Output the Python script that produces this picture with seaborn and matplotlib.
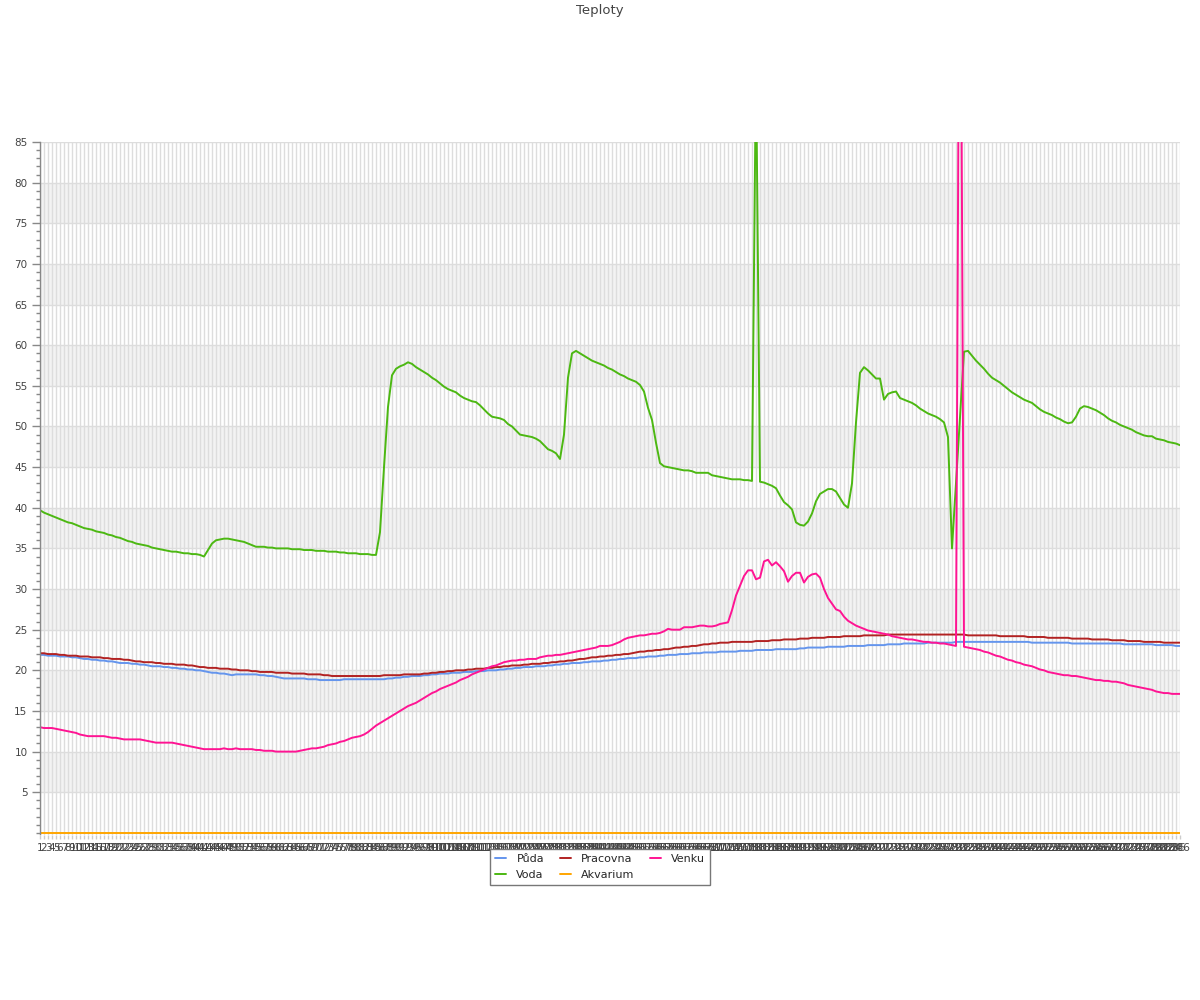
import matplotlib
matplotlib.use("Agg")
import matplotlib.pyplot as plt
import numpy as np
import pandas as pd
import seaborn as sns
from matplotlib.ticker import MultipleLocator

# ---------------- data ----------------
puda = [
    21.9, 21.9, 21.8, 21.8, 21.8, 21.7, 21.7, 21.7, 21.6, 21.6,
    21.5, 21.4, 21.4, 21.3, 21.3, 21.2, 21.2, 21.1, 21.1, 21.0,
    20.9, 20.9, 20.9, 20.8, 20.8, 20.7, 20.7, 20.6, 20.5, 20.5,
    20.5, 20.4, 20.4, 20.3, 20.3, 20.2, 20.2, 20.1, 20.1, 20.0,
    20.0, 19.9, 19.8, 19.7, 19.7, 19.6, 19.6, 19.5, 19.4, 19.5,
    19.5, 19.5, 19.5, 19.5, 19.5, 19.4, 19.4, 19.3, 19.3, 19.2,
    19.1, 19.0, 19.0, 19.0, 19.0, 19.0, 19.0, 18.9, 18.9, 18.9,
    18.8, 18.8, 18.8, 18.8, 18.8, 18.8, 18.9, 18.9, 18.9, 18.9,
    18.9, 18.9, 18.9, 18.9, 18.9, 18.9, 18.9, 19.0, 19.0, 19.1,
    19.1, 19.2, 19.2, 19.3, 19.3, 19.3, 19.4, 19.4, 19.5, 19.5,
    19.6, 19.6, 19.6, 19.7, 19.7, 19.7, 19.8, 19.8, 19.8, 19.9,
    19.9, 19.9, 20.0, 20.0, 20.0, 20.1, 20.1, 20.2, 20.2, 20.3,
    20.3, 20.4, 20.4, 20.4, 20.5, 20.5, 20.5, 20.6, 20.6, 20.7,
    20.7, 20.8, 20.8, 20.9, 20.9, 20.9, 21.0, 21.0, 21.1, 21.1,
    21.1, 21.2, 21.2, 21.3, 21.3, 21.4, 21.4, 21.5, 21.5, 21.5,
    21.6, 21.6, 21.7, 21.7, 21.7, 21.8, 21.8, 21.9, 21.9, 21.9,
    22.0, 22.0, 22.0, 22.1, 22.1, 22.1, 22.2, 22.2, 22.2, 22.2,
    22.3, 22.3, 22.3, 22.3, 22.3, 22.4, 22.4, 22.4, 22.4, 22.5,
    22.5, 22.5, 22.5, 22.5, 22.6, 22.6, 22.6, 22.6, 22.6, 22.6,
    22.7, 22.7, 22.8, 22.8, 22.8, 22.8, 22.8, 22.9, 22.9, 22.9,
    22.9, 22.9, 23.0, 23.0, 23.0, 23.0, 23.0, 23.1, 23.1, 23.1,
    23.1, 23.1, 23.2, 23.2, 23.2, 23.2, 23.3, 23.3, 23.3, 23.3,
    23.3, 23.3, 23.4, 23.4, 23.4, 23.4, 23.4, 23.4, 23.4, 23.5,
    23.5, 23.5, 23.5, 23.5, 23.5, 23.5, 23.5, 23.5, 23.5, 23.5,
    23.5, 23.5, 23.5, 23.5, 23.5, 23.5, 23.5, 23.5, 23.4, 23.4,
    23.4, 23.4, 23.4, 23.4, 23.4, 23.4, 23.4, 23.4, 23.3, 23.3,
    23.3, 23.3, 23.3, 23.3, 23.3, 23.3, 23.3, 23.3, 23.3, 23.3,
    23.3, 23.2, 23.2, 23.2, 23.2, 23.2, 23.2, 23.2, 23.2, 23.1,
    23.1, 23.1, 23.1, 23.1, 23.0, 23.0,
]

voda = [
    39.7, 39.4, 39.2, 39.0, 38.8, 38.6, 38.4, 38.2, 38.1, 37.9,
    37.7, 37.5, 37.4, 37.3, 37.1, 37.0, 36.9, 36.7, 36.6, 36.4,
    36.3, 36.1, 35.9, 35.8, 35.6, 35.5, 35.4, 35.3, 35.1, 35.0,
    34.9, 34.8, 34.7, 34.6, 34.6, 34.5, 34.4, 34.4, 34.3, 34.3,
    34.2, 34.0, 34.8, 35.6, 36.0, 36.1, 36.2, 36.2, 36.1, 36.0,
    35.9, 35.8, 35.6, 35.4, 35.2, 35.2, 35.2, 35.1, 35.1, 35.0,
    35.0, 35.0, 35.0, 34.9, 34.9, 34.9, 34.8, 34.8, 34.8, 34.7,
    34.7, 34.7, 34.6, 34.6, 34.6, 34.5, 34.5, 34.4, 34.4, 34.4,
    34.3, 34.3, 34.3, 34.2, 34.2, 37.0, 45.0, 52.4, 56.3, 57.1,
    57.4, 57.6, 57.9, 57.7, 57.3, 57.0, 56.7, 56.4, 56.0, 55.7,
    55.3, 54.9, 54.6, 54.4, 54.2, 53.8, 53.5, 53.3, 53.1, 53.0,
    52.6, 52.1, 51.6, 51.2, 51.1, 51.0, 50.8, 50.3, 50.0, 49.5,
    49.0, 48.9, 48.8, 48.7, 48.5, 48.2, 47.7, 47.2, 47.0, 46.7,
    46.0, 49.0, 56.0, 59.0, 59.3, 59.0, 58.7, 58.4, 58.1, 57.9,
    57.7, 57.5, 57.2, 57.0, 56.7, 56.4, 56.2, 55.9, 55.7, 55.5,
    55.1, 54.3, 52.3, 50.8, 48.0, 45.5, 45.1, 45.0, 44.9, 44.8,
    44.7, 44.6, 44.6, 44.5, 44.3, 44.3, 44.3, 44.3, 44.0, 43.9,
    43.8, 43.7, 43.6, 43.5, 43.5, 43.5, 43.4, 43.4, 43.3, 95.0,
    43.2, 43.1, 42.9, 42.7, 42.4, 41.5, 40.7, 40.3, 39.8, 38.2,
    37.9, 37.8, 38.3, 39.3, 40.8, 41.7, 42.0, 42.3, 42.3, 42.0,
    41.2, 40.4, 40.0, 43.0, 50.5, 56.6, 57.3, 56.9, 56.4, 55.9,
    55.9, 53.3, 54.0, 54.2, 54.3, 53.5, 53.3, 53.1, 52.9, 52.6,
    52.2, 51.9, 51.6, 51.4, 51.2, 50.9, 50.5, 48.7, 35.0, 43.0,
    51.0, 59.2, 59.3, 58.7, 58.1, 57.6, 57.1, 56.5, 56.0, 55.7,
    55.4, 55.0, 54.6, 54.2, 53.9, 53.6, 53.3, 53.1, 52.9, 52.5,
    52.1, 51.8, 51.6, 51.4, 51.1, 50.9, 50.6, 50.4, 50.5, 51.2,
    52.2, 52.5, 52.4, 52.2, 52.0, 51.7, 51.4, 51.0, 50.7, 50.5,
    50.2, 50.0, 49.8, 49.6, 49.3, 49.1, 48.9, 48.8, 48.8, 48.5,
    48.4, 48.3, 48.1, 48.0, 47.9, 47.7,
]

pracovna = [
    22.1, 22.1, 22.0, 22.0, 22.0, 21.9, 21.9, 21.8, 21.8, 21.8,
    21.7, 21.7, 21.7, 21.6, 21.6, 21.6, 21.5, 21.5, 21.4, 21.4,
    21.4, 21.3, 21.3, 21.2, 21.1, 21.1, 21.0, 21.0, 21.0, 20.9,
    20.9, 20.8, 20.8, 20.8, 20.7, 20.7, 20.7, 20.6, 20.6, 20.5,
    20.4, 20.4, 20.3, 20.3, 20.3, 20.2, 20.2, 20.2, 20.1, 20.1,
    20.0, 20.0, 20.0, 19.9, 19.9, 19.8, 19.8, 19.8, 19.8, 19.7,
    19.7, 19.7, 19.7, 19.6, 19.6, 19.6, 19.6, 19.5, 19.5, 19.5,
    19.5, 19.4, 19.4, 19.3, 19.3, 19.3, 19.3, 19.3, 19.3, 19.3,
    19.3, 19.3, 19.3, 19.3, 19.3, 19.3, 19.4, 19.4, 19.4, 19.4,
    19.4, 19.5, 19.5, 19.5, 19.5, 19.5, 19.6, 19.6, 19.7, 19.7,
    19.8, 19.8, 19.9, 19.9, 20.0, 20.0, 20.0, 20.1, 20.1, 20.2,
    20.2, 20.2, 20.3, 20.3, 20.4, 20.4, 20.5, 20.5, 20.6, 20.6,
    20.6, 20.7, 20.7, 20.8, 20.8, 20.8, 20.9, 20.9, 21.0, 21.0,
    21.1, 21.1, 21.2, 21.2, 21.3, 21.4, 21.4, 21.5, 21.6, 21.6,
    21.7, 21.7, 21.8, 21.8, 21.9, 21.9, 22.0, 22.0, 22.1, 22.2,
    22.3, 22.3, 22.4, 22.4, 22.5, 22.5, 22.6, 22.6, 22.7, 22.8,
    22.8, 22.9, 22.9, 23.0, 23.0, 23.1, 23.2, 23.2, 23.3, 23.3,
    23.4, 23.4, 23.4, 23.5, 23.5, 23.5, 23.5, 23.5, 23.5, 23.6,
    23.6, 23.6, 23.6, 23.7, 23.7, 23.7, 23.8, 23.8, 23.8, 23.8,
    23.9, 23.9, 23.9, 24.0, 24.0, 24.0, 24.0, 24.1, 24.1, 24.1,
    24.1, 24.2, 24.2, 24.2, 24.2, 24.2, 24.3, 24.3, 24.3, 24.3,
    24.3, 24.3, 24.4, 24.4, 24.4, 24.4, 24.4, 24.4, 24.4, 24.4,
    24.4, 24.4, 24.4, 24.4, 24.4, 24.4, 24.4, 24.4, 24.4, 24.4,
    24.4, 24.4, 24.3, 24.3, 24.3, 24.3, 24.3, 24.3, 24.3, 24.3,
    24.2, 24.2, 24.2, 24.2, 24.2, 24.2, 24.2, 24.1, 24.1, 24.1,
    24.1, 24.1, 24.0, 24.0, 24.0, 24.0, 24.0, 24.0, 23.9, 23.9,
    23.9, 23.9, 23.9, 23.8, 23.8, 23.8, 23.8, 23.8, 23.7, 23.7,
    23.7, 23.7, 23.6, 23.6, 23.6, 23.6, 23.5, 23.5, 23.5, 23.5,
    23.5, 23.4, 23.4, 23.4, 23.4, 23.4,
]

akvarium = [0.0] * 286

venku = [
    13.0, 12.9, 12.9, 12.9, 12.8, 12.7, 12.6, 12.5, 12.4, 12.3,
    12.1, 12.0, 11.9, 11.9, 11.9, 11.9, 11.9, 11.8, 11.7, 11.7,
    11.6, 11.5, 11.5, 11.5, 11.5, 11.5, 11.4, 11.3, 11.2, 11.1,
    11.1, 11.1, 11.1, 11.1, 11.0, 10.9, 10.8, 10.7, 10.6, 10.5,
    10.4, 10.3, 10.3, 10.3, 10.3, 10.3, 10.4, 10.3, 10.3, 10.4,
    10.3, 10.3, 10.3, 10.3, 10.2, 10.2, 10.1, 10.1, 10.1, 10.0,
    10.0, 10.0, 10.0, 10.0, 10.0, 10.1, 10.2, 10.3, 10.4, 10.4,
    10.5, 10.6, 10.8, 10.9, 11.0, 11.2, 11.3, 11.5, 11.7, 11.8,
    11.9, 12.1, 12.4, 12.8, 13.2, 13.5, 13.8, 14.1, 14.4, 14.7,
    15.0, 15.3, 15.6, 15.8, 16.0, 16.3, 16.6, 16.9, 17.2, 17.4,
    17.7, 17.9, 18.1, 18.3, 18.5, 18.8, 19.0, 19.2, 19.5, 19.7,
    19.9, 20.1, 20.3, 20.5, 20.6, 20.8, 21.0, 21.1, 21.2, 21.2,
    21.3, 21.3, 21.4, 21.4, 21.4, 21.6, 21.7, 21.8, 21.8, 21.9,
    21.9, 22.0, 22.1, 22.2, 22.3, 22.4, 22.5, 22.6, 22.7, 22.8,
    23.0, 23.0, 23.0, 23.1, 23.3, 23.5, 23.8, 24.0, 24.1, 24.2,
    24.3, 24.3, 24.4, 24.5, 24.5, 24.6, 24.8, 25.1, 25.0, 25.0,
    25.0, 25.3, 25.3, 25.3, 25.4, 25.5, 25.5, 25.4, 25.4, 25.5,
    25.7, 25.8, 25.9, 27.4, 29.2, 30.4, 31.6, 32.3, 32.3, 31.2,
    31.4, 33.4, 33.6, 32.9, 33.3, 32.8, 32.2, 30.9, 31.6, 32.0,
    32.0, 30.8, 31.5, 31.8, 31.9, 31.4, 30.0, 28.9, 28.2, 27.5,
    27.3, 26.6, 26.1, 25.8, 25.5, 25.3, 25.1, 24.9, 24.8, 24.7,
    24.6, 24.5, 24.4, 24.2, 24.1, 24.0, 23.9, 23.8, 23.8, 23.7,
    23.6, 23.5, 23.5, 23.4, 23.4, 23.3, 23.3, 23.2, 23.1, 23.0,
    130.0, 22.9, 22.8, 22.7, 22.6, 22.5, 22.3, 22.2, 22.0, 21.8,
    21.7, 21.5, 21.3, 21.2, 21.0, 20.9, 20.7, 20.6, 20.5, 20.3,
    20.1, 20.0, 19.8, 19.7, 19.6, 19.5, 19.4, 19.4, 19.3, 19.3,
    19.2, 19.1, 19.0, 18.9, 18.8, 18.8, 18.7, 18.7, 18.6, 18.6,
    18.5, 18.4, 18.2, 18.1, 18.0, 17.9, 17.8, 17.7, 17.6, 17.4,
    17.3, 17.2, 17.2, 17.1, 17.1, 17.1,
]

series_names = ["Půda", "Voda", "Pracovna", "Akvarium", "Venku"]
series_values = [puda, voda, pracovna, akvarium, venku]
series_colors = ["#6495ED", "#4CB812", "#B22222", "#FFA500", "#FF1493"]

n = min(len(s) for s in series_values)
categories = [str(i + 1) for i in range(n)]
y_ticks = list(range(5, 90, 5))

# ---------------- long-form table ----------------
rows = []
for name, vals in zip(series_names, series_values):
    for i in range(n):
        rows.append({"pos": i, "value": vals[i], "series": name})
df = pd.DataFrame(rows)

# ---------------- plot ----------------
sns.set_theme(style="white")
plt.rcParams["font.family"] = ["DejaVu Sans"]

fig = plt.figure(figsize=(12, 10), dpi=100)
ax = fig.add_axes([40 / 1200, 0.1655, 1140 / 1200, 0.6925])
ax.set_facecolor("white")

# alternating bands
for lo in range(5, 85, 10):
    ax.axhspan(lo, lo + 5, color="#f3f3f3", zorder=0, lw=0)

sns.lineplot(data=df, x="pos", y="value", hue="series", hue_order=series_names,
             palette=dict(zip(series_names, series_colors)), linewidth=1.4,
             ax=ax, legend=True, sort=False, estimator=None)

ax.set_xlim(0, n - 1)
ax.set_ylim(-0.2, 85)

ax.set_xticks(range(n))
ax.set_xticklabels(categories, fontsize=7.5, color="#444444")
ax.set_yticks(y_ticks)
ax.set_yticklabels([str(t) for t in y_ticks], fontsize=7.5, color="#444444")
ax.yaxis.set_minor_locator(MultipleLocator(1))
ax.tick_params(axis="y", which="major", length=6, color="#888888", width=1, direction="out", pad=3, left=True)
ax.tick_params(axis="y", which="minor", length=3, color="#888888", width=1, direction="out", left=True)
ax.tick_params(axis="x", which="major", length=3, color="#cccccc", width=1, direction="out", pad=3, bottom=True)

ax.grid(True, which="major", axis="both", color="#dddddd", linewidth=1, zorder=0.5)
ax.set_axisbelow(True)
ax.set_xlabel("")
ax.set_ylabel("")

for side in ["top", "right", "bottom"]:
    ax.spines[side].set_visible(False)
ax.spines["left"].set_color("#888888")
ax.spines["left"].set_linewidth(1)

handles, labels = ax.get_legend_handles_labels()
ax.get_legend().remove()
fig.legend(handles, labels, loc="upper center", bbox_to_anchor=(0.5, 0.157), ncol=3,
           fontsize=8, frameon=True, fancybox=False, edgecolor="#777777",
           framealpha=1, handlelength=1.0, handletextpad=0.9, columnspacing=1.4,
           borderpad=0.5, labelspacing=0.5)

fig.text(0.5, 0.996, "Teploty", ha="center", va="top", fontsize=9.5, color="#444444")

fig.savefig("out.png", dpi=100)
